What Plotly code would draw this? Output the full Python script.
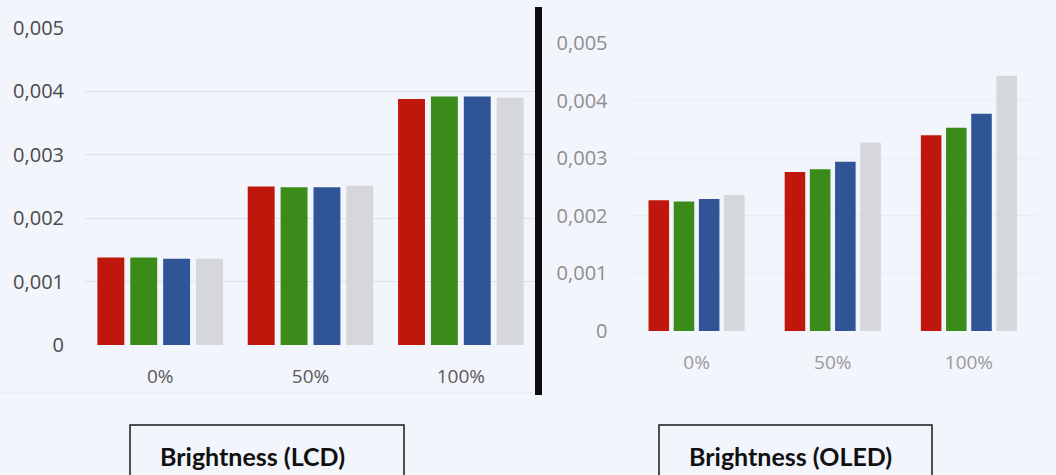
import plotly.graph_objects as go

# Brightness levels and the four measured channels
categories = ["0%", "50%", "100%"]
channels = ["Red", "Green", "Blue", "White"]

lcd_red = [0.00138, 0.00250, 0.00388]
lcd_green = [0.00138, 0.00249, 0.00392]
lcd_blue = [0.00136, 0.00249, 0.00392]
lcd_white = [0.00136, 0.00251, 0.00390]

oled_red = [0.00227, 0.00276, 0.00340]
oled_green = [0.00225, 0.00281, 0.00353]
oled_blue = [0.00229, 0.00294, 0.00377]
oled_white = [0.00236, 0.00327, 0.00443]

tick_vals = [0, 0.001, 0.002, 0.003, 0.004, 0.005]
tick_text = ["0", "0,001", "0,002", "0,003", "0,004", "0,005"]

panel_titles = ["Brightness (LCD)", "Brightness (OLED)"]

colors = ["#c0170d", "#3b8b1b", "#2f5597", "#d6d7dc"]
BG = "#f2f5fb"
W, H = 1056, 475


def px_x(p):
    return p / W


def px_y(p):
    return 1 - p / H


fig = go.Figure()

lcd = [lcd_red, lcd_green, lcd_blue, lcd_white]
oled = [oled_red, oled_green, oled_blue, oled_white]

# slot spacing and bar width, in category units, for each panel
panels = [
    dict(data=lcd, xa="x", ya="y", slot=0.2187, width=0.179),
    dict(data=oled, xa="x2", ya="y2", slot=0.185, width=0.151),
]

for p in panels:
    for i, (name, vals) in enumerate(zip(channels, p["data"])):
        center = (i - 1.5) * p["slot"]
        fig.add_trace(go.Bar(
            x=categories, y=vals, name=name,
            marker=dict(color=colors[i], line=dict(width=0)),
            width=p["width"], offset=center - p["width"] / 2,
            xaxis=p["xa"], yaxis=p["ya"], showlegend=False,
        ))

fig.update_layout(
    width=W, height=H,
    margin=dict(l=0, r=0, t=0, b=0, pad=0, autoexpand=False),
    paper_bgcolor=BG, plot_bgcolor=BG,
    barmode="overlay",
    separators=",.",
    font=dict(family="Open Sans, sans-serif"),
    xaxis=dict(
        domain=[px_x(85), px_x(536)], range=[-0.5, 2.5],
        showgrid=False, zeroline=False, showline=False, ticks="",
        tickfont=dict(size=19, color="#5a5a5a"), ticklabelstandoff=18,
        anchor="y", automargin=False,
    ),
    yaxis=dict(
        domain=[px_y(345), px_y(28)], range=[0, 0.005],
        tickvals=tick_vals, ticktext=tick_text,
        showgrid=True, gridcolor="#dde1e9", gridwidth=1,
        zeroline=False, showline=False, ticks="",
        tickfont=dict(size=20, color="#4a4a4a"), ticklabelstandoff=20,
        anchor="x", automargin=False,
    ),
    xaxis2=dict(
        domain=[px_x(628.5), px_x(1037)], range=[-0.5, 2.5],
        showgrid=False, zeroline=False, showline=False, ticks="",
        tickfont=dict(size=19, color="#9a9a9a"), ticklabelstandoff=18,
        anchor="y2", automargin=False,
    ),
    yaxis2=dict(
        domain=[px_y(331), px_y(43)], range=[0, 0.005],
        tickvals=tick_vals, ticktext=tick_text,
        showgrid=True, gridcolor="#e8ebf1", gridwidth=1,
        zeroline=False, showline=False, ticks="",
        tickfont=dict(size=20, color="#8e8e8e"), ticklabelstandoff=20,
        anchor="x2", automargin=False,
    ),
)

# divider between the two panels
fig.add_shape(type="line", xref="paper", yref="paper",
              x0=px_x(538.5), x1=px_x(538.5), y0=px_y(395), y1=px_y(7),
              line=dict(color="#0d0d0d", width=7))

# faint lower edge of the left panel
fig.add_shape(type="line", xref="paper", yref="paper",
              x0=0, x1=px_x(532), y0=px_y(393), y1=px_y(393),
              line=dict(color="#e2e5ec", width=1))

# caption boxes with their text centres
boxes = [(130, 404, 252.5), (659, 932, 790.5)]
for (x0, x1, xc), title in zip(boxes, panel_titles):
    fig.add_shape(type="rect", xref="paper", yref="paper",
                  x0=px_x(x0), x1=px_x(x1), y0=px_y(490), y1=px_y(425),
                  line=dict(color="#1a1a1a", width=1.5), fillcolor=BG)
    fig.add_annotation(xref="paper", yref="paper",
                       x=px_x(xc), y=px_y(456),
                       text="<b>" + title + "</b>", showarrow=False,
                       font=dict(family="Lato, sans-serif", size=25, color="#111111"),
                       xanchor="center", yanchor="middle")

fig.write_html("out.html")
